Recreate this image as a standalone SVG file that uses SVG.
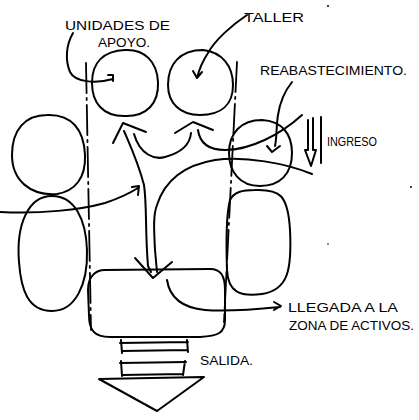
<svg xmlns="http://www.w3.org/2000/svg" width="419" height="420" viewBox="0 0 419 420">
<style>
.s{fill:none;stroke:#000;stroke-width:2;stroke-linecap:round;stroke-linejoin:round}
.d{fill:none;stroke:#000;stroke-width:1.8;stroke-dasharray:30 5 2 5;stroke-linecap:round}
.t{font-family:"Liberation Sans Narrow","Liberation Sans",sans-serif;font-size:13px;fill:#000}
</style>
<rect width="419" height="420" fill="#fff"/>
<g id="axes">
<path class="d" d="M86 63 L91 330"/>
<path class="d" d="M237 62 L224 322"/>
</g>
<g id="unidades-apoyo"><path class="s" d="M125 50 C145 49,157 62,158 82 C159 103,147 117,124 116 C103 116,92 103,92 83 C92 62,104 51,125 50 Z"/></g>
<g id="taller"><path class="s" d="M203 50 C222 52,233 66,233 85 C233 104,222 115,200 115 C180 115,168 103,168 85 C168 64,180 50,203 50 Z"/></g>
<g id="reabastecimiento"><path class="s" d="M262 120 C282 121,292 134,292 153 C292 174,280 186,260 186 C240 186,229 172,229 153 C229 133,241 120,262 120 Z"/></g>
<g id="left-top"><path class="s" d="M47 115 C72 114,84 130,85 155 C86 178,75 191,57 194 C30 196,12 180,12 155 C12 130,25 115,47 115 Z"/></g>
<g id="left-bottom"><path class="s" d="M52 196 C75 196,86 220,87 250 C88 285,75 311,52 311 C28 311,21 290,19 262 C16 225,28 196,52 196 Z"/></g>
<g id="right-bottom"><path class="s" d="M255 190 C280 189,288 195,290 230 C292 270,288 290,262 294 C240 297,228 292,227 270 C226 240,226 215,230 200 C234 192,242 190,255 190 Z"/></g>
<g id="llegada"><path class="s" d="M105 270 L210 269 C221 269,225 276,225 290 L225 320 C225 333,218 336,200 337 L110 337 C94 337,89 330,89 315 L88 290 C88 277,95 270,105 270 Z"/></g>
<g id="salida">
<path class="s" d="M120 343 L188 342 M122 351 L188 350 M121 340 L122 353 M187 340 L188 352"/>
<path class="s" d="M120 363 L186 362 M122 375 L183 374 M121 361 L122 376 M185 361 L183 375"/>
<path class="s" d="M99 379 L204 377 L157 411 Z"/>
</g>
<g id="ingreso-symbol">
<path class="s" stroke-width="1.5" d="M308 120 L308 150 L305 150 L311 166 L316 150 L313 150 L313 118"/>
<path class="s" stroke-width="3" d="M321 117 L321 163"/>
</g>
<g id="connectors">
<path class="s" d="M73 33 C66 45,65 60,70 72 C75 82,95 84,113 79 M108 75 L113 75 L113 81"/>
<path class="s" d="M247 15 C232 25,215 40,208 53 C202 62,199 70,197 78 M193 71 L197 78 L202 72"/>
<path class="s" d="M292 82 C284 92,280 102,278 115 C276 128,277 137,275 146 M267 146 L272 152 L280 146"/>
<path class="s" d="M113 143 L123 123 L146 132"/>
<path class="s" d="M124 131 C130 145,138 162,144 185 C147 205,145 230,148 266 L151 272"/>
<path class="s" d="M134 134 C140 155,155 160,165 157 C180 153,190 145,191 133"/>
<path class="s" d="M175 133 L193 122 L213 130"/>
<path class="s" d="M198 130 C200 145,210 150,225 150 C250 150,280 135,302 115"/>
<path class="s" d="M157 272 L155 250 C154 230,153 215,157 205 C165 180,185 165,215 160 C245 156,285 163,312 174"/>
<path class="s" d="M135 258 L153 278 L172 262"/>
<path class="s" d="M0 212 C40 214,80 210,105 203 C120 198,130 193,138 188 M132 187 L139 186 L138 195"/>
<path class="s" d="M167 280 C170 300,185 308,205 310 C230 312,260 309,280 307 M274 302 L281 306 L274 310"/>
</g>
<g id="dots" fill="#000">
<circle cx="328" cy="6" r="1"/><circle cx="411" cy="187" r="1"/><circle cx="328" cy="244" r="0.8"/>
</g>
<g id="labels">
<text class="t" x="65" y="30" textLength="105" lengthAdjust="spacingAndGlyphs">UNIDADES DE</text>
<text class="t" x="98" y="47" textLength="52" lengthAdjust="spacingAndGlyphs">APOYO.</text>
<text class="t" x="244" y="22" textLength="60" lengthAdjust="spacingAndGlyphs">TALLER</text>
<text class="t" x="260" y="75" textLength="147" lengthAdjust="spacingAndGlyphs">REABASTECIMIENTO.</text>
<text class="t" x="327" y="146" font-size="11" textLength="50" lengthAdjust="spacingAndGlyphs">INGRESO</text>
<text class="t" x="288" y="312" textLength="110" lengthAdjust="spacingAndGlyphs">LLEGADA A LA</text>
<text class="t" x="289" y="330" textLength="125" lengthAdjust="spacingAndGlyphs">ZONA DE ACTIVOS.</text>
<text class="t" x="200" y="365" textLength="53" lengthAdjust="spacingAndGlyphs">SALIDA.</text>
</g>
</svg>
